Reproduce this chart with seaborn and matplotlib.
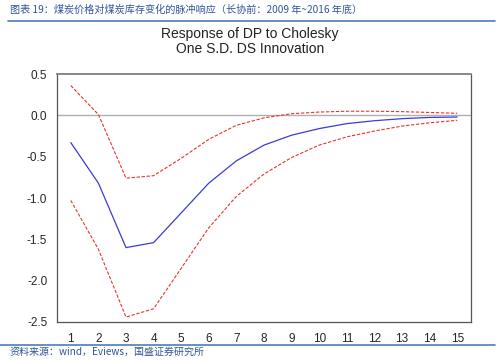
import numpy as np
import pandas as pd
import matplotlib
matplotlib.use("Agg")
import matplotlib.pyplot as plt
import seaborn as sns

periods = list(range(1, 16))
response = [-0.33, -0.82, -1.60, -1.54, -1.18, -0.82, -0.55, -0.36, -0.24, -0.16,
            -0.10, -0.065, -0.04, -0.025, -0.02]
upper_band = [0.36, 0.01, -0.76, -0.73, -0.52, -0.29, -0.12, -0.03, 0.02, 0.04,
              0.05, 0.05, 0.045, 0.035, 0.025]
lower_band = [-1.03, -1.62, -2.44, -2.34, -1.85, -1.36, -0.98, -0.71, -0.51, -0.36,
              -0.26, -0.19, -0.13, -0.09, -0.06]
y_ticks = [0.5, 0.0, -0.5, -1.0, -1.5, -2.0, -2.5]

header = "图表 19：煤炭价格对煤炭库存变化的脉冲响应（长协前：2009 年~2016 年底）"
footer = "资料来源：wind，Eviews，国盛证券研究所"


def main():
    sns.set_style("white")
    plt.rcParams['font.family'] = ['Liberation Sans', 'Noto Sans CJK SC', 'DejaVu Sans']

    df = pd.DataFrame({"period": periods, "response": response,
                       "upper": upper_band, "lower": lower_band})

    fig = plt.figure(figsize=(5, 3.62), dpi=100)
    ax = fig.add_axes([0.114, 0.1105, 0.828, 0.685])

    ax.axhline(0, color="#b0b0b0", lw=1.0, zorder=1)
    sns.lineplot(data=df, x="period", y="upper", ax=ax, color="#e8332c", lw=0.8,
                 linestyle=(0, (3, 1.5)))
    sns.lineplot(data=df, x="period", y="lower", ax=ax, color="#e8332c", lw=0.8,
                 linestyle=(0, (3, 1.5)))
    sns.lineplot(data=df, x="period", y="response", ax=ax, color="#3b3bd6", lw=0.9)

    ax.set_xlim(0.5, 15.5)
    ax.set_ylim(-2.5, 0.5)
    ax.set_yticks(y_ticks)
    ax.set_yticklabels([f"{v:.1f}" for v in y_ticks])
    ax.set_xticks(periods)
    ax.set_xticklabels([str(p) for p in periods])
    ax.set_xticks(np.arange(0.5, 16, 1), minor=True)
    ax.tick_params(axis="x", which="major", length=0, pad=8, labelsize=8.5)
    ax.tick_params(axis="x", which="minor", length=4, width=0.7, color="#555555", direction="out")
    ax.tick_params(axis="y", length=4, width=0.7, color="#555555", direction="out",
                   labelsize=8.5, pad=3)
    ax.set_xlabel("")
    ax.set_ylabel("")
    for side in ["left", "bottom", "right"]:
        ax.spines[side].set_color("#555555")
        ax.spines[side].set_linewidth(0.9)
    ax.spines["top"].set_color("#888888")
    ax.spines["top"].set_linewidth(1.4)

    fig.text(0.5, 0.885, "Response of DP to Cholesky\nOne S.D. DS Innovation",
             ha="center", va="center", fontsize=10, linespacing=1.1, color="#222222")

    # header and footer of the report page
    fig.text(0.02, 0.972, header, ha="left", va="center", fontsize=7.3,
             color="#2f5597", style="italic",
             family=['Noto Sans CJK SC', 'DejaVu Sans'])
    fig.add_artist(plt.Line2D([0.015, 0.99], [0.942, 0.942], color="#4f7cb8", lw=1.2))
    fig.add_artist(plt.Line2D([0.0, 0.99], [0.047, 0.047], color="#4f7cb8", lw=1.2))
    fig.text(0.02, 0.028, footer, ha="left", va="center", fontsize=7.2,
             color="#2f5597", style="italic",
             family=['Noto Sans CJK SC', 'DejaVu Sans'])

    fig.savefig("out.png", dpi=100, facecolor="white")


if __name__ == "__main__":
    main()
